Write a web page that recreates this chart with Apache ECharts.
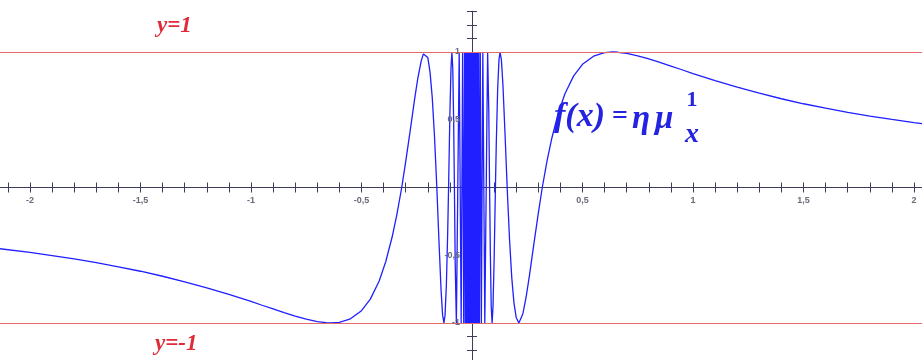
<!DOCTYPE html>
<html>
<head>
<meta charset="utf-8">
<script src="https://cdn.jsdelivr.net/npm/echarts@6/dist/echarts.min.js"></script>
<style>
  html, body { margin: 0; padding: 0; background: #fff; }
  #chart { width: 922px; height: 360px; }
</style>
</head>
<body>
<div id="chart"></div>
<script>
// points, x < 0 branch (ascending x)
const leftBranch = [
  [-2.15, -0.449], [-2.0, -0.479], [-1.9, -0.502], [-1.8, -0.527], [-1.7, -0.555],
  [-1.6, -0.585], [-1.5, -0.618], [-1.4, -0.655], [-1.3, -0.696], [-1.2, -0.740],
  [-1.1, -0.789], [-1.0, -0.841], [-0.95, -0.869], [-0.9, -0.896], [-0.85, -0.923],
  [-0.8, -0.949], [-0.75, -0.972], [-0.7, -0.990], [-0.66, -0.998], [-0.637, -1],
  [-0.6, -0.995], [-0.55, -0.969], [-0.5, -0.909], [-0.46, -0.824], [-0.42, -0.690],
  [-0.39, -0.546], [-0.36, -0.356], [-0.34, -0.200], [-0.318, 0], [-0.3, 0.191],
  [-0.28, 0.416], [-0.26, 0.648], [-0.245, 0.808], [-0.23, 0.933], [-0.22, 0.986],
  [-0.212, 1], [-0.2, 0.959], [-0.19, 0.853], [-0.18, 0.667], [-0.17, 0.387],
  [-0.16, 0.033], [-0.15, -0.374], [-0.14, -0.756], [-0.133, -0.942], [-0.127, -1],
  [-0.122, -0.942], [-0.116, -0.722], [-0.11, -0.333], [-0.106, 0], [-0.1, 0.544],
  [-0.095, 0.881], [-0.091, 1], [-0.087, 0.878], [-0.083, 0.486], [-0.0796, 0],
  [-0.076, -0.559], [-0.0707, -1],
  [-0.0579, 1], [-0.049, -1], [-0.0424, 1], [-0.0375, -1], [-0.0335, 1], [-0.0303, -1],
  [-0.0277, 1], [-0.0255, -1], [-0.0236, 1], [-0.022, -1], [-0.0205, 1], [-0.0193, -1],
  [-0.0182, 1], [-0.0172, -1], [-0.0163, 1], [-0.0155, -1], [-0.0148, 1], [-0.0142, -1],
  [-0.0136, 1], [-0.013, -1], [-0.0125, 1], [-0.012, -1], [-0.0116, 1], [-0.0112, -1],
  [-0.0108, 1], [-0.0104, -1], [-0.01, 1], [-0.0096, -1], [-0.0092, 1], [-0.0088, -1],
  [-0.0084, 1], [-0.008, -1], [-0.0076, 1], [-0.0072, -1], [-0.0068, 1], [-0.0064, -1],
  [-0.006, 1], [-0.0056, -1], [-0.0052, 1], [-0.0048, -1], [-0.0044, 1], [-0.004, -1],
  [-0.0036, 1], [-0.0032, -1], [-0.0028, 1], [-0.0024, -1], [-0.002, 1], [-0.0016, -1],
  [-0.0012, 1], [-0.0008, -1], [-0.0004, 1]
]

// x > 0 branch (ascending x)
const rightBranch = [
  [0.0004, -1], [0.0008, 1], [0.0012, -1], [0.0016, 1], [0.002, -1], [0.0024, 1],
  [0.0028, -1], [0.0032, 1], [0.0036, -1], [0.004, 1], [0.0044, -1], [0.0048, 1],
  [0.0052, -1], [0.0056, 1], [0.006, -1], [0.0064, 1], [0.0068, -1], [0.0072, 1],
  [0.0076, -1], [0.008, 1], [0.0084, -1], [0.0088, 1], [0.0092, -1], [0.0096, 1],
  [0.01, -1], [0.0104, 1], [0.0108, -1], [0.0112, 1], [0.0116, -1], [0.012, 1],
  [0.0125, -1], [0.013, 1], [0.0136, -1], [0.0142, 1], [0.0148, -1], [0.0155, 1],
  [0.0163, -1], [0.0172, 1], [0.0182, -1], [0.0193, 1], [0.0205, -1], [0.022, 1],
  [0.0236, -1], [0.0255, 1], [0.0277, -1], [0.0303, 1], [0.0335, -1], [0.0375, 1],
  [0.0424, -1], [0.049, 1], [0.0579, -1],
  [0.0707, 1], [0.076, 0.559], [0.0796, 0], [0.083, -0.486], [0.087, -0.878],
  [0.091, -1], [0.095, -0.881], [0.1, -0.544], [0.106, 0], [0.11, 0.333],
  [0.116, 0.722], [0.122, 0.942], [0.127, 1], [0.133, 0.942], [0.14, 0.756],
  [0.15, 0.374], [0.16, -0.033], [0.17, -0.387], [0.18, -0.667], [0.19, -0.853],
  [0.2, -0.959], [0.212, -1], [0.22, -0.986], [0.23, -0.933], [0.245, -0.808],
  [0.26, -0.648], [0.28, -0.416], [0.3, -0.191], [0.318, 0], [0.34, 0.2],
  [0.36, 0.356], [0.39, 0.546], [0.42, 0.69], [0.46, 0.824], [0.5, 0.909],
  [0.55, 0.969], [0.6, 0.995], [0.637, 1], [0.66, 0.998], [0.7, 0.99],
  [0.75, 0.972], [0.8, 0.949], [0.85, 0.923], [0.9, 0.896], [0.95, 0.869],
  [1, 0.841], [1.1, 0.789], [1.2, 0.74], [1.3, 0.696], [1.4, 0.655],
  [1.5, 0.618], [1.6, 0.585], [1.7, 0.555], [1.8, 0.527], [1.9, 0.502],
  [2, 0.479], [2.05, 0.469]
]

const xLabelValues = [-2, -1.5, -1, -0.5, 0.5, 1, 1.5, 2]
const yLabelValues = [-1, -0.5, 0.5, 1]
const boundLines = [1, -1]

const axisColor = '#3d3d5c'
const labelColor = '#6a6a7a'
const curveColor = '#1f1fff'
const formulaColor = '#2424e0'
const boundColor = '#e02a3a'

const fmt = v => String(Math.round(v * 10) / 10).replace('.', ',')

const chart = echarts.init(document.getElementById('chart'))

const xBase = {
  type: 'value',
  min: -2.2,
  max: 2.1,
  interval: 0.1,
  axisLine: { onZero: true, lineStyle: { color: axisColor, width: 1 } },
  axisTick: { length: 5, lineStyle: { color: axisColor } },
  axisLabel: { show: false },
  splitLine: { show: false }
}
const yBase = {
  type: 'value',
  min: -1.3,
  max: 1.3,
  interval: 0.1,
  axisLine: { onZero: true, lineStyle: { color: axisColor, width: 1 } },
  axisTick: { length: 5, lineStyle: { color: axisColor } },
  axisLabel: { show: false },
  splitLine: { show: false }
}

const option = {
  backgroundColor: '#fff',
  animation: false,
  grid: { left: -14.2, right: -14.1, top: 11.35, bottom: -3.65, containLabel: false, outerBoundsMode: 'none' },
  // two axes per direction so the ticks cross the axis line
  xAxis: [
    Object.assign({}, xBase, { position: 'bottom' }),
    Object.assign({}, xBase, { position: 'top' })
  ],
  yAxis: [
    Object.assign({}, yBase, { position: 'left' }),
    Object.assign({}, yBase, { position: 'right' })
  ],
  series: [
    {
      type: 'line',
      data: leftBranch.concat(rightBranch),
      showSymbol: false,
      symbol: 'none',
      lineStyle: { color: curveColor, width: 1.3 },
      z: 3,
      markLine: {
        silent: true,
        symbol: 'none',
        label: { show: false },
        lineStyle: { color: '#e26a6a', width: 1, type: 'solid' },
        data: boundLines.map(v => ({ yAxis: v }))
      }
    }
  ]
}

chart.setOption(option)

// tick labels placed through the axis scales
const origin = chart.convertToPixel({ xAxisIndex: 0, yAxisIndex: 0 }, [0, 0])
const labelFont = 'bold 9px "Liberation Sans"'
const tickLabels = xLabelValues.map(v => ({
  type: 'text',
  x: chart.convertToPixel({ xAxisIndex: 0 }, v),
  y: origin[1] + 13,
  z: 5,
  style: { text: fmt(v), fill: labelColor, font: labelFont, textAlign: 'center', textVerticalAlign: 'middle' }
})).concat(yLabelValues.map(v => ({
  type: 'text',
  x: origin[0] - 12,
  y: chart.convertToPixel({ yAxisIndex: 0 }, v),
  z: 5,
  style: { text: fmt(v), fill: labelColor, font: labelFont, textAlign: 'right', textVerticalAlign: 'middle' }
})))

const annotations = [
  {
    type: 'text', x: 157, y: 26,
    style: { text: 'y=1', fill: boundColor, font: 'italic bold 23px "Liberation Serif"', textVerticalAlign: 'middle' }
  },
  {
    type: 'text', x: 155, y: 344,
    style: { text: 'y=-1', fill: boundColor, font: 'italic bold 23px "Liberation Serif"', textVerticalAlign: 'middle' }
  },
  {
    type: 'text', x: 554, y: 117,
    style: { text: 'f(x)', fill: formulaColor, font: 'italic bold 34px "Liberation Serif"', textVerticalAlign: 'middle' }
  },
  {
    type: 'text', x: 612, y: 117,
    style: { text: '=', fill: formulaColor, font: 'bold 28px "Liberation Serif"', textVerticalAlign: 'middle' }
  },
  {
    type: 'text', x: 632, y: 119,
    style: { text: 'η', fill: formulaColor, font: 'italic bold 33px "Liberation Serif"', textVerticalAlign: 'middle' }
  },
  {
    type: 'text', x: 655, y: 119,
    style: { text: 'μ', fill: formulaColor, font: 'italic bold 33px "Liberation Serif"', textVerticalAlign: 'middle' }
  },
  {
    type: 'text', x: 692, y: 100,
    style: { text: '1', fill: formulaColor, font: 'bold 22px "Liberation Serif"', textAlign: 'center', textVerticalAlign: 'middle' }
  },
  {
    type: 'text', x: 692, y: 135,
    style: { text: 'x', fill: formulaColor, font: 'italic bold 28px "Liberation Serif"', textAlign: 'center', textVerticalAlign: 'middle' }
  }
]

chart.setOption({ graphic: tickLabels.concat(annotations) })
</script>
</body>
</html>
